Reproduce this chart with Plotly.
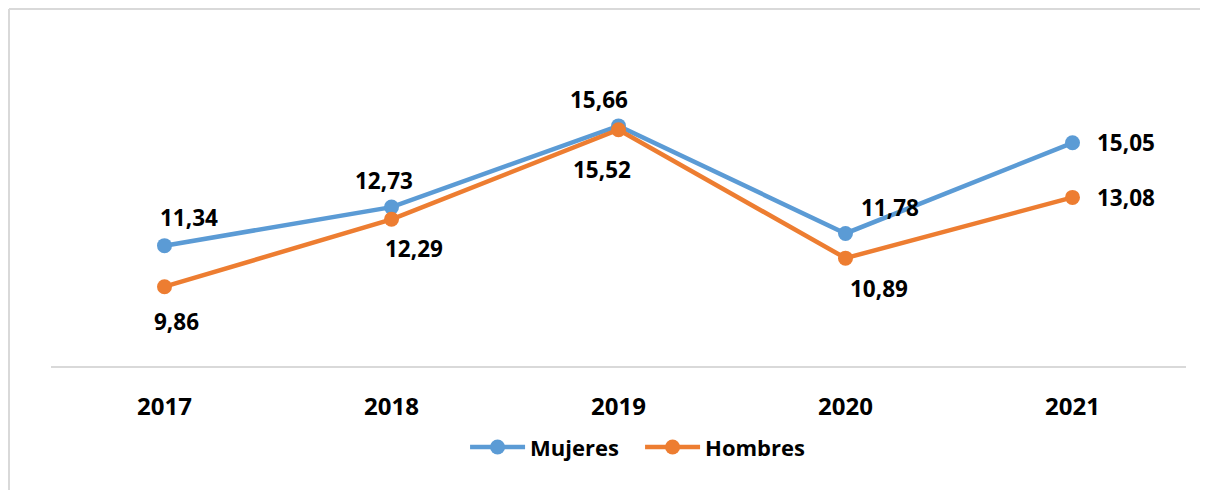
import plotly.graph_objects as go

years = ["2017", "2018", "2019", "2020", "2021"]
mujeres = [11.34, 12.73, 15.66, 11.78, 15.05]
hombres = [9.86, 12.29, 15.52, 10.89, 13.08]
mujeres_labels = ["11,34", "12,73", "15,66", "11,78", "15,05"]
hombres_labels = ["9,86", "12,29", "15,52", "10,89", "13,08"]

# label offsets in pixels (style only)
muj_dx = [24, -8, -20, 44, 53]
muj_dy = [28, 27, 26, 26, 0]
hom_dx = [12, 22, -17, 33, 53]
hom_dy = [-35, -29, -40, -30, 0]

blue = "#5B9BD5"
orange = "#ED7D31"
FONT = "Open Sans"

fig = go.Figure()
fig.add_trace(go.Scatter(
    x=years, y=mujeres, name="Mujeres", mode="lines+markers",
    line=dict(color=blue, width=4.5), marker=dict(color=blue, size=15),
    cliponaxis=False,
))
fig.add_trace(go.Scatter(
    x=years, y=hombres, name="Hombres", mode="lines+markers",
    line=dict(color=orange, width=4.5), marker=dict(color=orange, size=15),
    cliponaxis=False,
))

label_font = dict(family=FONT, size=22.5, color="black", weight="bold")
annotations = []
for i, (v, t, dx, dy) in enumerate(zip(mujeres, mujeres_labels, muj_dx, muj_dy)):
    annotations.append(dict(x=i, y=v, xref="x", yref="y", text=t, showarrow=False,
                            xshift=dx, yshift=dy, font=label_font))
for i, (v, t, dx, dy) in enumerate(zip(hombres, hombres_labels, hom_dx, hom_dy)):
    annotations.append(dict(x=i, y=v, xref="x", yref="y", text=t, showarrow=False,
                            xshift=dx, yshift=dy, font=label_font))

border = dict(color="#D9D9D9", width=2)
fig.update_layout(
    width=1192, height=482,
    margin=dict(l=43, r=14, t=53, b=124),
    paper_bgcolor="white", plot_bgcolor="white",
    font=dict(family=FONT, size=20, color="black"),
    showlegend=True,
    legend=dict(orientation="h", x=0.519, xanchor="center", y=-0.266, yanchor="middle",
                font=dict(family=FONT, size=22, color="black", weight="bold"),
                traceorder="normal", itemwidth=55,
                entrywidth=105, entrywidthmode="pixels"),
    xaxis=dict(
        type="category", range=[-0.5, 4.5], showgrid=False, zeroline=False,
        showline=True, linecolor="#D9D9D9", linewidth=2,
        ticks="outside", ticklen=0, ticklabelstandoff=18,
        tickfont=dict(family=FONT, size=24, color="black", weight="bold"),
    ),
    yaxis=dict(range=[7, 18], visible=False, showgrid=False, zeroline=False),
    annotations=annotations,
    shapes=[
        dict(type="line", xref="paper", yref="paper", x0=-0.037, x1=1.1, y0=1.1705, y1=1.1705, line=border),
        dict(type="line", xref="paper", yref="paper", x0=-0.037, x1=-0.037, y0=-0.6, y1=1.1705, line=border),
    ],
)

fig.write_html("out.html")
